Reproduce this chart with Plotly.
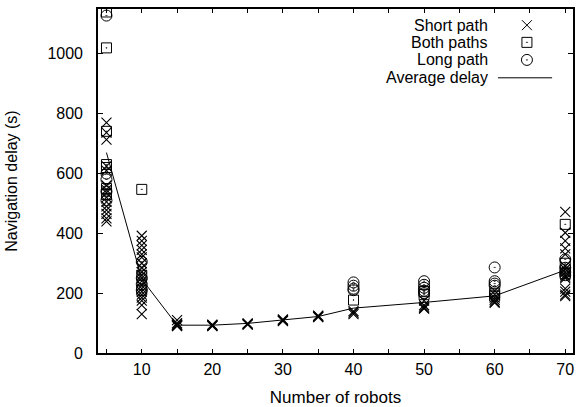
import plotly.graph_objects as go

# ---------------- data ----------------
robot_counts = [5, 10, 15, 20, 25, 30, 35, 40, 50, 60, 70]
average_delay = [670, 247, 93, 93, 99, 110, 122, 150, 169, 191, 277]

short_path = {
    5: [770, 737, 713, 625, 610, 560, 545, 535, 520, 505, 490, 478, 465, 450, 440],
    10: [392, 375, 360, 345, 330, 320, 300, 285, 270, 260, 250, 240, 225, 215, 205, 195, 185, 175, 160, 130],
    15: [110, 100, 96, 94, 93, 92, 91, 90],
    20: [95, 93, 92, 91, 90],
    25: [99, 97, 96, 95],
    30: [112, 110, 108, 107],
    35: [125, 123, 121, 120],
    40: [140, 135, 130],
    50: [175, 160, 155, 150, 148],
    60: [208, 195, 185, 178, 172, 168],
    70: [472, 402, 375, 350, 330, 290, 280, 270, 260, 255, 250, 215, 205, 195, 190],
}
both_paths = {
    5: [1140, 1020, 741, 630, 620, 550, 530],
    10: [547, 260, 210],
    40: [177],
    50: [205, 195],
    60: [200, 190],
    70: [430, 300, 265],
}
long_path = {
    5: [1128, 600, 580, 540, 510],
    10: [305, 250, 230, 210],
    40: [236, 225, 215, 210],
    50: [240, 228, 218, 208, 200],
    60: [286, 240, 232, 225],
    70: [313, 285, 270, 260],
}

x_ticks = [10, 20, 30, 40, 50, 60, 70]
y_ticks = [0, 200, 400, 600, 800, 1000]

legend_labels = ["Short path", "Both paths", "Long path", "Average delay"]


def flatten(d):
    xs, ys = [], []
    for k, vals in d.items():
        for v in vals:
            xs.append(k)
            ys.append(v)
    return xs, ys


FONT = "Liberation Sans, Arial, sans-serif"
fig = go.Figure()

sx, sy = flatten(short_path)
bx, by = flatten(both_paths)
lx, ly = flatten(long_path)

fig.add_trace(go.Scatter(x=sx, y=sy, mode="markers", name=legend_labels[0],
                         marker=dict(symbol="x-thin-open", size=10, color="black",
                                     line=dict(color="black", width=1.1))))
fig.add_trace(go.Scatter(x=bx, y=by, mode="markers", name=legend_labels[1],
                         marker=dict(symbol="square-open-dot", size=10, color="black",
                                     line=dict(color="black", width=1))))
fig.add_trace(go.Scatter(x=lx, y=ly, mode="markers", name=legend_labels[2],
                         marker=dict(symbol="circle-open-dot", size=11, color="black",
                                     line=dict(color="black", width=1))))
fig.add_trace(go.Scatter(x=robot_counts, y=average_delay, mode="lines", name=legend_labels[3],
                         line=dict(color="black", width=1)))

# ---------- custom gnuplot-style legend (overlay axes in [0,1]) ----------
row_y = [0.953, 0.903, 0.852, 0.800]
text_x = 0.826
sym_x = 0.903
symbols = ["x-thin-open", "square-open-dot", "circle-open-dot"]
sizes = [10, 10, 11]
for i in range(3):
    fig.add_trace(go.Scatter(x=[sym_x], y=[row_y[i]], mode="markers", xaxis="x2", yaxis="y2",
                             showlegend=False,
                             marker=dict(symbol=symbols[i], size=sizes[i], color="black",
                                         line=dict(color="black", width=1))))
fig.add_trace(go.Scatter(x=[0.842, 0.956], y=[row_y[3], row_y[3]], mode="lines",
                         xaxis="x2", yaxis="y2", showlegend=False,
                         line=dict(color="black", width=1)))
for i, lab in enumerate(legend_labels):
    fig.add_annotation(x=text_x, y=row_y[i], xref="x2", yref="y2", text=lab,
                       showarrow=False, xanchor="right", yanchor="middle",
                       font=dict(family=FONT, size=16, color="black"))

axis_common = dict(showline=True, linecolor="black", linewidth=1.6, mirror="ticks",
                   ticks="inside", tickcolor="black", tickwidth=1, showgrid=False,
                   zeroline=False, automargin=False,
                   tickfont=dict(family=FONT, size=16, color="black"))

fig.update_layout(
    width=579, height=407,
    margin=dict(l=98, r=6, t=9, b=54),
    paper_bgcolor="white", plot_bgcolor="white",
    showlegend=False,
    xaxis=dict(range=[3.8, 71.1], tickvals=x_ticks, ticklen=4, ticklabelstandoff=1,
               minor=dict(ticks="inside", ticklen=4, dtick=5, tick0=0, tickcolor="black"),
               title=dict(text="Number of robots", standoff=14,
                          font=dict(family=FONT, size=17, color="black")),
               **axis_common),
    yaxis=dict(range=[0, 1150], tickvals=y_ticks, ticklen=5, ticklabelstandoff=10,
               title=dict(text="Navigation delay (s)", standoff=26,
                          font=dict(family=FONT, size=16, color="black")),
               **axis_common),
    xaxis2=dict(range=[0, 1], overlaying="x", visible=False, domain=[0, 1]),
    yaxis2=dict(range=[0, 1], overlaying="y", visible=False),
)

fig.write_html("out.html")
